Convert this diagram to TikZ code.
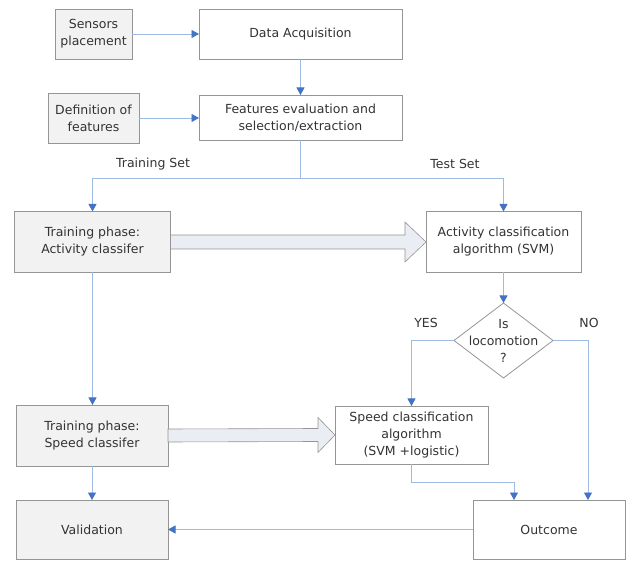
\documentclass[tikz,border=0pt]{standalone}
\usepackage{fontspec}
\setmainfont{DejaVu Sans}
\usetikzlibrary{arrows.meta,shapes.geometric}
\definecolor{c4472c4}{RGB}{68,114,196}
\definecolor{c9dbbe3}{RGB}{157,187,227}
\definecolor{c959595}{RGB}{149,149,149}
\definecolor{cf2f2f2}{RGB}{242,242,242}
\definecolor{ceaedf3}{RGB}{234,237,243}
\definecolor{c333333}{RGB}{51,51,51}

\begin{document}
\begin{tikzpicture}[y=1pt, x=1pt, yscale=-1, inner sep=0pt, outer sep=0pt,
  font=\fontsize{12.5}{17}\selectfont, text=c333333,
  box/.style={draw=c959595, line width=0.8pt, fill=white, align=center},
  greybox/.style={box, fill=cf2f2f2},
  link/.style={draw=c9dbbe3, line width=0.8pt,
    -{Triangle[length=7.5pt,width=8pt,color=c4472c4]}},
  bigarrow/.style={draw=c959595, fill=ceaedf3, line width=0.6pt, line join=miter}]
\useasboundingbox (0,0) rectangle (627,561);

  % boxes
  \node[greybox, minimum width=77pt, minimum height=50pt] (sensors) at (93.5,34)
    {Sensors\\placement};
  \node[box, minimum width=203pt, minimum height=50pt] (acq) at (300.5,34)
    {Data Acquisition};
  \node[greybox, minimum width=91pt, minimum height=50pt] (defs) at (93.5,118)
    {Definition of\\features};
  \node[box, minimum width=203pt, minimum height=45pt] (feat) at (300.5,117.5)
    {Features evaluation and\\selection/extraction};
  \node[greybox, minimum width=156pt, minimum height=61pt] (trainact) at (92.5,242)
    {Training phase:\\Activity classifer};
  \node[box, minimum width=155pt, minimum height=61pt] (actclass) at (503.5,242)
    {Activity classification\\algorithm (SVM)};
  \node[box, diamond, aspect=1.32, inner sep=-6pt, minimum width=99pt,
    minimum height=75pt] (loco) at (503.5,340.5) {Is\\locomotion\\?};
  \node[greybox, minimum width=152pt, minimum height=61pt] (trainspd) at (92,435.5)
    {Training phase:\\Speed classifer};
  \node[box, minimum width=153pt, minimum height=58pt] (spdclass) at (411.5,435)
    {Speed classification\\algorithm\\(SVM +logistic)};
  \node[greybox, minimum width=152pt, minimum height=59pt] (valid) at (92,529.5)
    {Validation};
  \node[box, minimum width=152pt, minimum height=59pt] (outcome) at (549,529.5)
    {Outcome};

  % labels
  \node (trainset) at (153,164) {Training Set};
  \node (testset) at (455,164) {Test Set};
  \node (yes) at (426,323) {YES};
  \node (no) at (589,323) {NO};

  % connectors
  \path[link] (sensors.east) -- (acq.west);
  \path[link] (defs.east) -- (feat.west |- defs.east);
  \path[link] (acq.south) -- (feat.north);
  \path[link] (feat.south) -- ++(0,38) -| (trainact.north);
  \path[link] (feat.south) -- ++(0,38) -| (actclass.north);
  \path[link] (actclass.south) -- (loco.north);
  \path[link] (loco.west) -| (spdclass.north);
  \path[link] (loco.east) -| ([xshift=39]outcome.north);
  \path[link] (spdclass.south) -- ++(0,18) -| ([xshift=-35]outcome.north);
  \path[link] (trainact.south) -- (trainact.south |- trainspd.north);
  \path[link] (trainspd.south) -- (valid.north);
  \path[link] (outcome.west) -- (valid.east);

  % hollow arrows
  \path[bigarrow] ([yshift=-7]trainact.east) -- ([xshift=-21,yshift=-7]actclass.west)
    -- ([xshift=-21,yshift=-20]actclass.west) -- (actclass.west)
    -- ([xshift=-21,yshift=20]actclass.west) -- ([xshift=-21,yshift=7]actclass.west)
    -- ([yshift=7]trainact.east) -- cycle;
  \path[bigarrow] ([yshift=-6.5]trainspd.east) -- ([xshift=-17,yshift=-6.5]spdclass.west)
    -- ([xshift=-17,yshift=-17.5]spdclass.west) -- (spdclass.west)
    -- ([xshift=-17,yshift=17.5]spdclass.west) -- ([xshift=-17,yshift=6.5]spdclass.west)
    -- ([yshift=6.5]trainspd.east) -- cycle;
\end{tikzpicture}
\end{document}
